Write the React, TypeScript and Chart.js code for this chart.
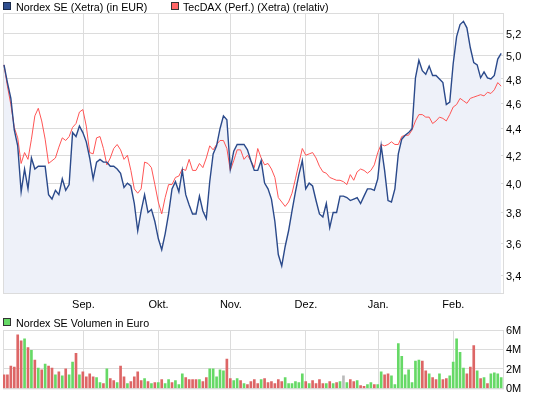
import React, { useEffect, useRef } from 'react';
import { Chart, registerables } from 'chart.js';

Chart.register(...registerables);

// ---- data ----
const monthLabels = ['Sep.', 'Okt.', 'Nov.', 'Dez.', 'Jan.', 'Feb.'];
// fractional trading-day index at which each month starts
const monthTickIndex = [23.16, 45.06, 66.15, 88.05, 109.14, 131.04];
const priceTicks = [3.4, 3.6, 3.8, 4.0, 4.2, 4.4, 4.6, 4.8, 5.0, 5.2];
const volumeTicksM = [0, 2, 4, 6];

const nordex = [
  4.92, 4.77, 4.64, 4.39, 4.27, 3.94, 4.10, 3.96, 4.18, 4.10,
  4.12, 4.12, 4.12, 3.92, 3.89, 3.95, 3.92, 4.03, 3.95, 3.99,
  4.37, 4.34, 4.42, 4.37, 4.30, 4.18, 4.03, 4.15, 4.17, 4.15,
  4.15, 4.12, 4.12, 4.10, 4.07, 3.97, 4.00, 3.98, 3.86, 3.68,
  3.81, 3.92, 3.80, 3.82, 3.74, 3.63, 3.56, 3.66, 3.79, 3.96,
  4.01, 3.94, 4.09, 3.92, 3.85, 3.79, 3.79, 3.91, 3.81, 3.76,
  4.01, 4.21, 4.27, 4.40, 4.50, 4.47, 4.10, 4.23, 4.28, 4.28,
  4.28, 4.24, 4.16, 4.09, 4.09, 4.16, 4.00, 3.96, 3.89, 3.74,
  3.53, 3.46, 3.58, 3.68, 3.81, 3.94, 4.06, 4.16, 3.96, 4.00,
  3.98, 3.88, 3.79, 3.77, 3.86, 3.70, 3.80, 3.80, 3.91, 3.91,
  3.90, 3.88, 3.89, 3.90, 3.86, 3.91, 3.96, 3.96, 3.95, 4.03,
  4.27, 4.09, 3.88, 3.87, 3.96, 4.21, 4.32, 4.35, 4.37, 4.40,
  4.81, 4.96, 4.87, 4.84, 4.91, 4.83, 4.83, 4.80, 4.77, 4.59,
  4.61, 4.93, 5.17, 5.28, 5.31, 5.25, 5.07, 4.94, 4.92, 4.81,
  4.86, 4.81, 4.80, 4.83, 4.97, 5.02,
];

const tecdax = [
  4.92, 4.74, 4.59, 4.41, 4.33, 4.14, 4.22, 4.17, 4.32, 4.50,
  4.56, 4.46, 4.32, 4.14, 4.16, 4.18, 4.26, 4.33, 4.31, 4.34,
  4.41, 4.44, 4.53, 4.55, 4.42, 4.22, 4.21, 4.33, 4.34, 4.25,
  4.13, 4.18, 4.25, 4.28, 4.24, 4.17, 4.20, 4.09, 3.96, 3.93,
  3.96, 4.15, 4.14, 4.11, 3.99, 3.87, 3.79, 3.90, 3.99, 3.99,
  4.04, 4.05, 4.10, 4.09, 4.17, 4.09, 4.09, 4.14, 4.11, 4.18,
  4.27, 4.24, 4.28, 4.31, 4.31, 4.25, 4.09, 4.16, 4.24, 4.24,
  4.17, 4.20, 4.16, 4.11, 4.25, 4.18, 4.13, 4.14, 4.10, 4.04,
  3.90, 3.87, 3.84, 3.87, 3.93, 4.03, 4.14, 4.25, 4.20, 4.21,
  4.22, 4.18, 4.12, 4.08, 4.07, 4.04, 4.03, 4.02, 4.02, 4.01,
  3.99, 4.06, 4.02, 4.08, 4.10, 4.09, 4.07, 4.09, 4.13, 4.22,
  4.28, 4.27, 4.28, 4.30, 4.28, 4.28, 4.34, 4.35, 4.35, 4.39,
  4.46, 4.51, 4.51, 4.49, 4.49, 4.44, 4.46, 4.49, 4.48, 4.46,
  4.51, 4.57, 4.59, 4.64, 4.62, 4.60, 4.64, 4.65, 4.66, 4.67,
  4.66, 4.69, 4.68, 4.71, 4.77, 4.74,
];

// volume in million EUR
const volumeM = [
  1.4, 1.4, 2.3, 2.2, 5.5, 4.9, 5.1, 4.2, 3.9, 2.9,
  2.1, 1.9, 2.5, 2.3, 2.1, 1.4, 1.7, 1.3, 2.0, 1.4,
  2.7, 3.6, 1.4, 1.7, 1.2, 1.5, 1.2, 1.1, 0.6, 0.5,
  2.0, 1.0, 0.8, 0.6, 2.3, 1.2, 0.5,
  0.7, 1.2, 1.7, 0.8, 1.0, 0.7, 0.5, 0.6, 0.6, 0.9,
  0.5, 0.9, 0.6, 0.8, 0.4, 1.5, 1.1, 0.9, 0.9, 0.9,
  0.9, 0.7, 1.1, 2.0, 2.0, 1.2, 1.9, 1.8, 3.0, 1.0,
  0.8, 1.0, 0.8, 0.5, 0.4, 0.7, 0.9,
  0.5, 0.9, 1.0, 0.6, 0.7, 0.5, 0.9, 0.7, 1.1, 0.5,
  0.5, 0.7, 0.6, 1.5, 0.7, 0.5, 0.8, 0.5, 0.9, 0.5,
  0.5, 0.7, 0.5, 0.6, 0.7, 1.3, 0.6, 0.9, 0.7, 0.8,
  0.3, 0.2, 0.4, 0.6, 0.4, 0.4,
  1.7, 1.4, 1.5, 1.3, 0.4, 4.6, 3.3, 1.4, 1.9, 0.6,
  2.8, 2.9, 2.8, 1.8, 1.5, 1.1, 0.9, 1.5, 0.9, 1.0,
  1.3, 2.7, 5.1, 3.7, 2.1, 1.5, 2.2, 4.4, 1.8, 1.0,
  1.1, 0.5, 1.5, 1.6, 1.5, 1.1,
];

// u = up day, d = down day, n = unchanged
const volumeDir = [
  'd','d','d','d','d','d','u','d','u','d','u','d','u','d','d','u','d','u','d','u',
  'u','d','u','d','d','d','d','u','u','d','u','d','d','u','d','d','u',
  'd','d','d','d','u','d','u','d','u','d','u','u','d','u','u','u','d','d','d','d',
  'u','d','d','u','u','u','u','u','d','d','u','u','d','u','d','d','d',
  'd','u','d','d','d','d','d','d','u','u','u','u','u','u','d','u','d','d','d','d',
  'u','d','u','d','u','n','u','d','d','u','d','d','u','u','d','u',
  'u','d','d','u','u','u','u','u','u','u','u','u','d','d','u','d','d','u','d','d',
  'u','u','u','u','u','d','d','d','u','d','u','d','u','u','u','u',
];

// ---- styling ----
const X_MIN = -0.29;
const X_MAX = 145.53;
const Y_MIN = 3.311;
const Y_MAX = 5.388;
const FONT = "'Liberation Sans', Arial, sans-serif";
const GRID = '#dcdcdc';
const BLUE = '#2b4a8b';
const RED = '#ff5555';
const FILL = '#eef1f9';
const dirColor: Record<string, string> = { u: '#66d966', d: '#dd6666', n: '#bbbbbb' };

const framePlugin = {
  id: 'frame',
  beforeDatasetsDraw(chart: any) {
    const { ctx, chartArea: a } = chart;
    ctx.save();
    ctx.strokeStyle = GRID;
    ctx.lineWidth = 1;
    ctx.strokeRect(a.left + 0.5, a.top + 0.5, a.right - a.left, a.bottom - a.top);
    ctx.restore();
  },
};

const monthAxis = (showLabels: boolean, height: number) => ({
  type: 'linear' as const,
  min: X_MIN,
  max: X_MAX,
  offset: false,
  afterBuildTicks: (s: any) => {
    s.ticks = monthTickIndex.map((v) => ({ value: v }));
  },
  afterFit: (s: any) => {
    s.height = height;
  },
  ticks: {
    display: showLabels,
    autoSkip: false,
    maxRotation: 0,
    padding: 5,
    color: '#000',
    font: { family: FONT, size: 11 },
    callback: (_v: any, i: number) => monthLabels[i],
  },
  grid: { color: GRID, drawTicks: false, offset: false },
  border: { display: false },
});

export default function App() {
  const topRef = useRef<HTMLCanvasElement>(null);
  const botRef = useRef<HTMLCanvasElement>(null);

  useEffect(() => {
    document.body.style.margin = '0';
    const top = new Chart(topRef.current!, {
      type: 'line',
      data: {
        datasets: [
          {
            label: 'Nordex SE (Xetra) (in EUR)',
            data: nordex.map((v, i) => ({ x: i, y: v })),
            borderColor: BLUE,
            borderWidth: 1.4,
            backgroundColor: FILL,
            fill: 'start',
            pointRadius: 0,
            tension: 0,
            order: 0,
          },
          {
            label: 'TecDAX (Perf.) (Xetra) (relativ)',
            data: tecdax.map((v, i) => ({ x: i, y: v })),
            borderColor: RED,
            borderWidth: 1,
            fill: false,
            pointRadius: 0,
            tension: 0,
            order: 1,
          },
        ],
      },
      options: {
        animation: false,
        responsive: false,
        maintainAspectRatio: false,
        events: [],
        layout: { padding: { left: 3, top: 13, right: 0, bottom: 0 } },
        plugins: {
          legend: { display: false },
          tooltip: { enabled: false },
          filler: { drawTime: 'beforeDatasetsDraw' },
        } as any,
        scales: {
          x: monthAxis(true, 19) as any,
          y: {
            type: 'logarithmic',
            position: 'right',
            min: Y_MIN,
            max: Y_MAX,
            afterBuildTicks: (s: any) => {
              s.ticks = priceTicks.map((v) => ({ value: v }));
            },
            afterFit: (s: any) => {
              s.width = 42;
            },
            ticks: {
              padding: 3,
              labelOffset: 1.5,
              color: '#000',
              font: { family: FONT, size: 11 },
              callback: (v: any) => Number(v).toFixed(1).replace('.', ','),
            },
            grid: { color: GRID, drawTicks: false },
            border: { display: false },
          } as any,
        },
      },
      plugins: [framePlugin],
    });

    const bot = new Chart(botRef.current!, {
      type: 'bar',
      data: {
        datasets: [
          {
            label: 'Nordex SE Volumen in Euro',
            data: volumeM.map((v, i) => ({ x: i, y: v * 1e6 })),
            backgroundColor: volumeDir.map((d) => dirColor[d]),
            borderWidth: 0,
            barThickness: 2,
          },
        ],
      },
      options: {
        animation: false,
        responsive: false,
        maintainAspectRatio: false,
        events: [],
        layout: { padding: { left: 3, top: 18, right: 0, bottom: 8 } },
        plugins: { legend: { display: false }, tooltip: { enabled: false } },
        scales: {
          x: monthAxis(false, 0) as any,
          y: {
            type: 'linear',
            position: 'right',
            min: 0,
            max: 6e6,
            afterBuildTicks: (s: any) => {
              s.ticks = volumeTicksM.map((v) => ({ value: v * 1e6 }));
            },
            afterFit: (s: any) => {
              s.width = 42;
            },
            ticks: {
              padding: 3,
              labelOffset: 1,
              color: '#000',
              font: { family: FONT, size: 11 },
              callback: (v: any) => `${Math.round(Number(v) / 1e6)}M`,
            },
            grid: { color: GRID, drawTicks: false },
            border: { display: false },
          } as any,
        },
      },
      plugins: [framePlugin],
    });

    return () => {
      top.destroy();
      bot.destroy();
    };
  }, []);

  const legendText: React.CSSProperties = {
    position: 'absolute',
    fontFamily: FONT,
    fontSize: '10.7px',
    lineHeight: '12px',
    color: '#000',
    whiteSpace: 'nowrap',
  };
  const box = (bg: string, border: string, left: number, top: number): React.CSSProperties => ({
    position: 'absolute',
    left,
    top,
    width: 8,
    height: 8,
    boxSizing: 'border-box',
    background: bg,
    border: `1px solid ${border}`,
  });

  return (
    <div style={{ position: 'fixed', left: 0, top: 0, width: 545, height: 398, background: '#fff' }}>
      <canvas ref={topRef} width={545} height={312} style={{ position: 'absolute', left: 0, top: 0, width: 545, height: 312 }} />
      <canvas ref={botRef} width={545} height={86} style={{ position: 'absolute', left: 0, top: 312, width: 545, height: 86 }} />
      <div style={box('#2f4f8f', '#1a2a4a', 3, 2)} />
      <div style={{ ...legendText, left: 16, top: 1 }}>Nordex SE (Xetra) (in EUR)</div>
      <div style={box('#ff6666', '#333333', 171, 2)} />
      <div style={{ ...legendText, left: 183, top: 1 }}>TecDAX (Perf.) (Xetra) (relativ)</div>
      <div style={box('#66d966', '#333333', 3, 318)} />
      <div style={{ ...legendText, left: 16, top: 317 }}>Nordex SE Volumen in Euro</div>
    </div>
  );
}
